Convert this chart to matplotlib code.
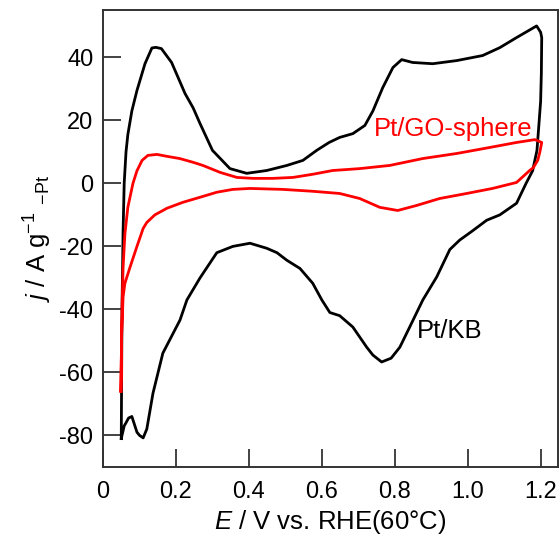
import matplotlib
matplotlib.use("Agg")
import matplotlib.pyplot as plt

plt.rcParams['font.family'] = ['Liberation Sans', 'DejaVu Sans']
plt.rcParams['mathtext.fontset'] = 'custom'
plt.rcParams['mathtext.rm'] = 'Liberation Sans'
plt.rcParams['mathtext.it'] = 'Liberation Sans:italic'
plt.rcParams['axes.unicode_minus'] = False

# Pt/KB (black), anodic then cathodic scan
kb_E = [0.050, 0.052, 0.055, 0.058, 0.063, 0.068, 0.079, 0.093, 0.115, 0.134, 0.145, 0.160,
        0.188, 0.225, 0.247, 0.266, 0.300, 0.348, 0.394, 0.449, 0.504, 0.548, 0.586, 0.620,
        0.649, 0.685, 0.718, 0.740, 0.767, 0.795, 0.819, 0.849, 0.904, 0.970, 1.041, 1.088,
        1.134, 1.189, 1.200, 1.203, 1.202, 1.200, 1.190, 1.178, 1.160, 1.134, 1.088, 1.052,
        1.014, 0.978, 0.951, 0.915, 0.877, 0.841, 0.814, 0.790, 0.764, 0.740, 0.723, 0.685,
        0.649, 0.622, 0.600, 0.575, 0.540, 0.504, 0.477, 0.449, 0.403, 0.356, 0.312, 0.266,
        0.230, 0.211, 0.164, 0.137, 0.120, 0.110, 0.100, 0.093, 0.079, 0.070, 0.063, 0.058,
        0.050]
kb_j = [-81.0, -40.0, -15.0, 0.0, 10.0, 15.5, 23.0, 29.5, 38.0, 43.0, 43.2, 42.8,
        38.4, 28.5, 24.0, 19.0, 10.5, 4.7, 3.2, 4.1, 5.7, 7.3, 10.5, 13.0,
        14.6, 15.8, 18.4, 23.0, 30.4, 36.8, 39.3, 38.4, 38.0, 39.0, 40.6, 43.1,
        46.3, 50.0, 48.0, 46.3, 35.0, 26.0, 10.5, 4.0, 0.0, -6.3, -10.0, -11.7,
        -15.0, -18.0, -21.0, -29.7, -37.0, -45.6, -52.0, -55.5, -56.7, -54.5, -52.0, -45.6,
        -42.0, -41.0, -37.0, -31.7, -27.0, -24.4, -22.0, -20.6, -19.0, -20.0, -22.0, -30.0,
        -37.0, -43.4, -53.9, -66.6, -78.0, -80.8, -80.0, -79.0, -74.0, -74.5, -76.0, -77.0,
        -81.0]

# Pt/GO-sphere (red)
go_E = [0.049, 0.052, 0.055, 0.060, 0.068, 0.082, 0.093, 0.107, 0.123, 0.148, 0.175,
        0.210, 0.247, 0.274, 0.321, 0.367, 0.411, 0.466, 0.521, 0.575, 0.630, 0.668,
        0.704, 0.786, 0.877, 0.970, 1.060, 1.134, 1.184, 1.203, 1.198, 1.192, 1.180,
        1.170, 1.134, 1.068, 0.997, 0.923, 0.860, 0.808, 0.759, 0.704, 0.649, 0.575,
        0.493, 0.403, 0.356, 0.312, 0.266, 0.219, 0.175, 0.142, 0.120, 0.110, 0.093,
        0.074, 0.060, 0.055, 0.051, 0.049]
go_j = [-66.0, -40.0, -26.6, -16.0, -7.6, 0.0, 4.0, 7.3, 8.9, 9.2, 8.6,
        7.9, 6.7, 5.7, 3.5, 1.9, 1.6, 1.6, 1.9, 2.9, 4.1, 4.4,
        4.7, 5.7, 7.9, 9.5, 11.4, 13.0, 13.9, 13.0, 10.0, 7.3, 5.0,
        4.1, 0.3, -1.6, -3.2, -4.8, -7.0, -8.6, -7.6, -4.8, -3.2, -2.5,
        -1.9, -1.6, -1.9, -2.8, -4.4, -6.0, -7.9, -10.0, -12.4, -14.3, -20.0,
        -26.6, -31.7, -36.0, -48.0, -66.0]

x_ticks = [0, 0.2, 0.4, 0.6, 0.8, 1.0, 1.2]
x_labels = ["0", "0.2", "0.4", "0.6", "0.8", "1.0", "1.2"]
y_ticks = [-80, -60, -40, -20, 0, 20, 40]

fig = plt.figure(figsize=(5.6, 5.36), dpi=100)
ax = fig.add_axes([0.184, 0.129, 0.812, 0.852])

ax.plot(kb_E, kb_j, color='black', lw=2.0)
ax.plot(go_E, go_j, color='#ff0000', lw=2.0)

ax.set_xlim(0, 1.247)
ax.set_ylim(-90, 55)
ax.set_xticks(x_ticks)
ax.set_xticklabels(x_labels)
ax.set_yticks(y_ticks)
ax.set_yticklabels([str(v) for v in y_ticks])

for s in ax.spines.values():
    s.set_linewidth(1.4)
    s.set_color('#333333')
ax.tick_params(direction='in', length=13, width=1.2, labelsize=17, color='#222222',
               top=False, right=False)
ax.tick_params(axis='x', pad=10)
ax.tick_params(axis='y', pad=7)

ax.set_xlabel(r"$\it{E}$ / V vs. RHE(60°C)", fontsize=18.5, labelpad=4)
ax.set_ylabel(r"$\it{j}$ / A g$^{-1}$ $_{-\mathrm{Pt}}$", fontsize=18.5, labelpad=4)

ax.text(0.959, 17.4, "Pt/GO-sphere", color='#ff0000', fontsize=18.5, ha='center', va='center')
ax.text(0.95, -47, "Pt/KB", color='black', fontsize=18.5, ha='center', va='center')

fig.savefig("out.png", dpi=100)
